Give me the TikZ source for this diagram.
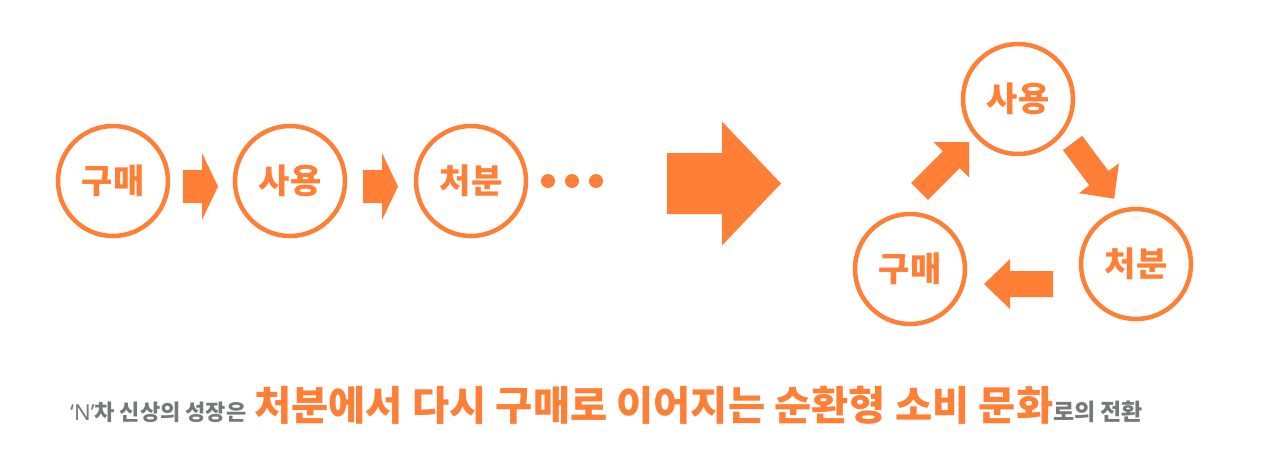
\documentclass[tikz,border=0pt]{standalone}
\usepackage{fontspec}
\newfontfamily\kr{Noto Sans CJK KR}
\newfontfamily\latn{Noto Sans}
\definecolor{orng}{HTML}{FF7F37}
\definecolor{gry}{HTML}{77787B}
\begin{document}
\begin{tikzpicture}[x=1pt,y=-1pt,
  ring/.style={circle, draw=orng, line width=4.5pt, minimum size=110pt, inner sep=0pt,
    font=\kr\bfseries\fontsize{34}{40}\selectfont, text=orng},
  dotmark/.style={circle, fill=orng, minimum size=14pt, inner sep=0pt},
  pics/barrow/.style n args={4}{code={
    \fill[orng] (0,-#2/2) -- (#1,-#2/2) -- (#1,-#4/2) -- (#1+#3,0) -- (#1,#4/2) -- (#1,#2/2) -- (0,#2/2) -- cycle;}}
]
\useasboundingbox (0,0) rectangle (1273,472);
% linear row
\node[ring] (buyA) at (113,181) {구매};
\node[ring] (useA) at (290,181) {사용};
\node[ring] (dispA) at (471,181) {처분};
\pic at (183,186.5) {barrow={19}{33}{16}{67}};
\pic at (363,186.5) {barrow={19}{33}{16}{67}};
\node[dotmark] (d1) at (548,181) {};
\node[dotmark] (d2) at (572,181) {};
\node[dotmark] (d3) at (596,181) {};
% big arrow
\pic at (667,183.5) {barrow={55}{61}{59}{124}};
% cycle
\node[ring] (useB) at (1018,99) {사용};
\node[ring] (buyB) at (910,269) {구매};
\node[ring] (dispB) at (1136,264) {처분};
\pic[rotate=45] at (919.5,191.5) {barrow={45}{24}{25}{50}};
\pic[rotate=-53.13] at (1072.5,143) {barrow={44}{24}{25.6}{50}};
\pic[rotate=180] at (1053,284) {barrow={43}{26}{26}{50}};
% caption
\node[anchor=base west, inner sep=0pt, font=\kr\bfseries] (caption) at (70,420)
  {\textcolor{gry}{\fontsize{22}{26}\selectfont{\latn\bfseries ‘N’}차 신상의 성장은}\hspace{8pt}\textcolor{orng}{\fontsize{40.4}{48}\selectfont 처분에서 다시 구매로 이어지는 순환형 소비 문화}\textcolor{gry}{\fontsize{23}{27}\selectfont 로의 전환}};
\end{tikzpicture}
\end{document}
